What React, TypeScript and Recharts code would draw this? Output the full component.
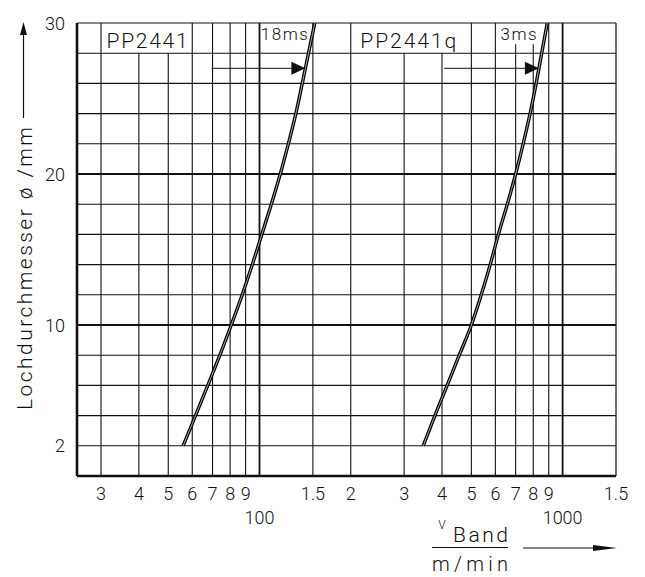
import React from 'react';
import { ComposedChart, Line, XAxis, YAxis, ReferenceLine, ReferenceDot } from 'recharts';

// ---- data ----
const diameters = [2, 4, 6, 8, 10, 12, 14, 16, 18, 20, 22, 24, 26, 28, 30];
const speedPP2441 = [56, 61.5, 67.5, 74, 80.7, 87.7, 94.7, 101.8, 109.4, 117.1, 124.5, 131.8, 138.4, 145.1, 152.2];
const speedPP2441q = [347, 379, 416, 456, 500, 539, 577, 614, 657, 700, 741, 781, 818, 853, 890];

const xDomain = [25, 1500];
const yDomain = [0, 30];
const xGridValues = [30, 40, 50, 60, 70, 80, 90, 100, 150, 200, 300, 400, 500, 600, 700, 800, 900, 1000];
const xMajorValues = [100, 1000];
const xTickValues = [30, 40, 50, 60, 70, 80, 90, 150, 200, 300, 400, 500, 600, 700, 800, 900, 1500];
const xTickLabels = ['3', '4', '5', '6', '7', '8', '9', '1.5', '2', '3', '4', '5', '6', '7', '8', '9', '1.5'];
const xDecadeValues = [100, 1000];
const xDecadeLabels = ['100', '1000'];
const yGridValues = [2, 4, 6, 8, 10, 12, 14, 16, 18, 20, 22, 24, 26, 28];
const yMajorValues = [10, 20];
const yTickValues = [2, 10, 20, 30];
const yTickLabels = ['2', '10', '20', '30'];

const seriesNames = ['PP2441', 'PP2441q'];
const seriesNameX = [31.3, 215];
const responseTimes = ['18ms', '3ms'];
const responseTimeX = [101, 624];
const labelRowY = 28.85;
const timeRowY = 29.25;
const arrowLevel = 27;
const arrowStartX = [69.5, 407];
const arrowEndX = [141.7, 835];
// label boxes hide the grid lines beneath them: [from, to, top]
const gridCutFrom = [35, 250, 650];
const gridCutTo = [55, 450, 850];
const gridCutTop = [28, 28, 28.6];

const dataPP2441 = diameters.map((d, i) => ({ v: speedPP2441[i], d }));
const dataPP2441q = diameters.map((d, i) => ({ v: speedPP2441q[i], d }));

const FONT = 'Roboto, "Liberation Sans", Arial, sans-serif';
const INK = '#111';

const XTick = (props: any) => {
  const { x, y, payload } = props;
  const v = payload.value;
  const di = xDecadeValues.indexOf(v);
  if (di >= 0) {
    return (
      <text x={x} y={y + 48} textAnchor="middle" fontFamily={FONT} fontWeight={300} fontSize={18} fill={INK}>
        {xDecadeLabels[di]}
      </text>
    );
  }
  const i = xTickValues.indexOf(v);
  return (
    <text x={x} y={y + 23.5} textAnchor="middle" fontFamily={FONT} fontWeight={300} fontSize={18} fill={INK}>
      {i >= 0 ? xTickLabels[i] : ''}
    </text>
  );
};

const YTick = (props: any) => {
  const { x, y, payload } = props;
  const i = yTickValues.indexOf(payload.value);
  return (
    <text x={x - 12} y={y + 6.5} textAnchor="end" fontFamily={FONT} fontWeight={300} fontSize={18} fill={INK}>
      {i >= 0 ? yTickLabels[i] : ''}
    </text>
  );
};

const YTitle = (props: any) => {
  const vb = props.viewBox || { x: 0, y: 23, width: 77, height: 453 };
  const top = vb.y;
  const ax = 23.5;
  const cy = top + 245.5;
  return (
    <g>
      <line x1={ax} y1={top + 95} x2={ax} y2={top + 12} stroke={INK} strokeWidth={1.2} />
      <polygon points={`${ax},${top - 1} ${ax - 3.5},${top + 12} ${ax + 3.5},${top + 12}`} fill={INK} />
      <text
        x={32}
        y={cy}
        transform={`rotate(-90, 32, ${cy})`}
        textAnchor="middle"
        fontFamily={FONT}
        fontWeight={300}
        fontSize={21}
        fill={INK}
        textLength={283}
        lengthAdjust="spacing"
      >
        Lochdurchmesser ø /mm
      </text>
    </g>
  );
};

const XTitle = (props: any) => {
  const vb = props.viewBox || { x: 77, y: 476, width: 539, height: 30 };
  const right = vb.x + vb.width;
  const base = vb.y;
  return (
    <g fontFamily={FONT} fontWeight={300} fill={INK}>
      <text x={right - 174} y={base + 53} textAnchor="middle" fontSize={12}>V</text>
      <text x={right - 163} y={base + 65.5} fontSize={21} textLength={55} lengthAdjust="spacing">Band</text>
      <line x1={right - 184} y1={base + 71.5} x2={right - 108} y2={base + 71.5} stroke={INK} strokeWidth={1.2} />
      <text x={right - 184} y={base + 94.5} fontSize={20} textLength={76} lengthAdjust="spacing">m/min</text>
      <line x1={right - 93} y1={base + 72} x2={right - 22} y2={base + 72} stroke={INK} strokeWidth={1.2} />
      <polygon points={`${right + 1},${base + 72} ${right - 23},${base + 69} ${right - 23},${base + 75}`} fill={INK} />
    </g>
  );
};

const ArrowShape = (p: any) => {
  const { x1, y1, x2, y2 } = p;
  return (
    <g>
      <line x1={x1} y1={y1} x2={x2 - 12} y2={y2} stroke={INK} strokeWidth={1} />
      <polygon points={`${x2},${y2} ${x2 - 14},${y2 - 6.5} ${x2 - 14},${y2 + 6.5}`} fill={INK} />
    </g>
  );
};

const makeText = (text: string, size: number, len: number) => (p: any) => (
  <text
    x={p.cx}
    y={p.cy}
    dy="0.36em"
    fontFamily={FONT}
    fontWeight={300}
    fontSize={size}
    fill={INK}
    textLength={len}
    lengthAdjust="spacing"
  >
    {text}
  </text>
);

const nameLens = [81, 96];
const timeLens = [47, 36];

export default function App() {
  return (
    <div style={{ position: 'absolute', left: 0, top: 0, background: '#fff' }}>
      <ComposedChart width={645} height={577} margin={{ top: 23, right: 29, bottom: 71, left: 0 }}>
        <XAxis
          dataKey="v"
          type="number"
          scale="log"
          domain={xDomain}
          allowDataOverflow
          ticks={[...xTickValues, ...xDecadeValues].sort((a, b) => a - b)}
          interval={0}
          tickSize={0}
          tickMargin={0}
          axisLine={false}
          tickLine={false}
          tick={<XTick />}
          height={30}
          label={<XTitle />}
        />
        <YAxis
          type="number"
          domain={yDomain}
          allowDataOverflow
          ticks={yTickValues}
          interval={0}
          tickSize={0}
          tickMargin={0}
          axisLine={false}
          tickLine={false}
          tick={<YTick />}
          width={77}
          label={<YTitle />}
        />
        {yGridValues.map((v) => (
          <ReferenceLine
            key={'hy' + v}
            y={v}
            stroke={INK}
            strokeWidth={yMajorValues.includes(v) ? 1.8 : 1.1}
            ifOverflow="visible"
          />
        ))}
        {xGridValues.map((v) => {
          const ci = gridCutFrom.findIndex((f, k) => v > f && v < gridCutTo[k]);
          const top = ci >= 0 ? gridCutTop[ci] : yDomain[1];
          return (
            <ReferenceLine
              key={'vx' + v}
              segment={[{ x: v, y: yDomain[0] }, { x: v, y: top }]}
              stroke={INK}
              strokeWidth={xMajorValues.includes(v) ? 1.8 : 1.1}
              ifOverflow="visible"
            />
          );
        })}
        <ReferenceLine y={yDomain[1]} stroke={INK} strokeWidth={1.2} ifOverflow="visible" />
        <ReferenceLine x={xDomain[1]} stroke={INK} strokeWidth={1.2} ifOverflow="visible" />
        <ReferenceLine y={yDomain[0]} stroke={INK} strokeWidth={2.6} ifOverflow="visible" />
        <ReferenceLine x={xDomain[0]} stroke={INK} strokeWidth={2.6} ifOverflow="visible" />

        {seriesNames.map((n, i) => (
          <ReferenceDot key={'n' + i} x={seriesNameX[i]} y={labelRowY} r={0} ifOverflow="visible" shape={makeText(n, 21, nameLens[i])} />
        ))}
        {responseTimes.map((n, i) => (
          <ReferenceDot key={'t' + i} x={responseTimeX[i]} y={timeRowY} r={0} ifOverflow="visible" shape={makeText(n, 17, timeLens[i])} />
        ))}
        {arrowStartX.map((s, i) => (
          <ReferenceLine
            key={'a' + i}
            segment={[{ x: s, y: arrowLevel }, { x: arrowEndX[i], y: arrowLevel }]}
            ifOverflow="visible"
            shape={ArrowShape}
          />
        ))}

        <Line data={dataPP2441} dataKey="d" type="monotone" stroke="#000" strokeWidth={3.4} dot={false} activeDot={false} isAnimationActive={false} />
        <Line data={dataPP2441} dataKey="d" type="monotone" stroke="#aaa" strokeWidth={1} dot={false} activeDot={false} isAnimationActive={false} />
        <Line data={dataPP2441q} dataKey="d" type="monotone" stroke="#000" strokeWidth={3.4} dot={false} activeDot={false} isAnimationActive={false} />
        <Line data={dataPP2441q} dataKey="d" type="monotone" stroke="#aaa" strokeWidth={1} dot={false} activeDot={false} isAnimationActive={false} />
      </ComposedChart>
    </div>
  );
}
